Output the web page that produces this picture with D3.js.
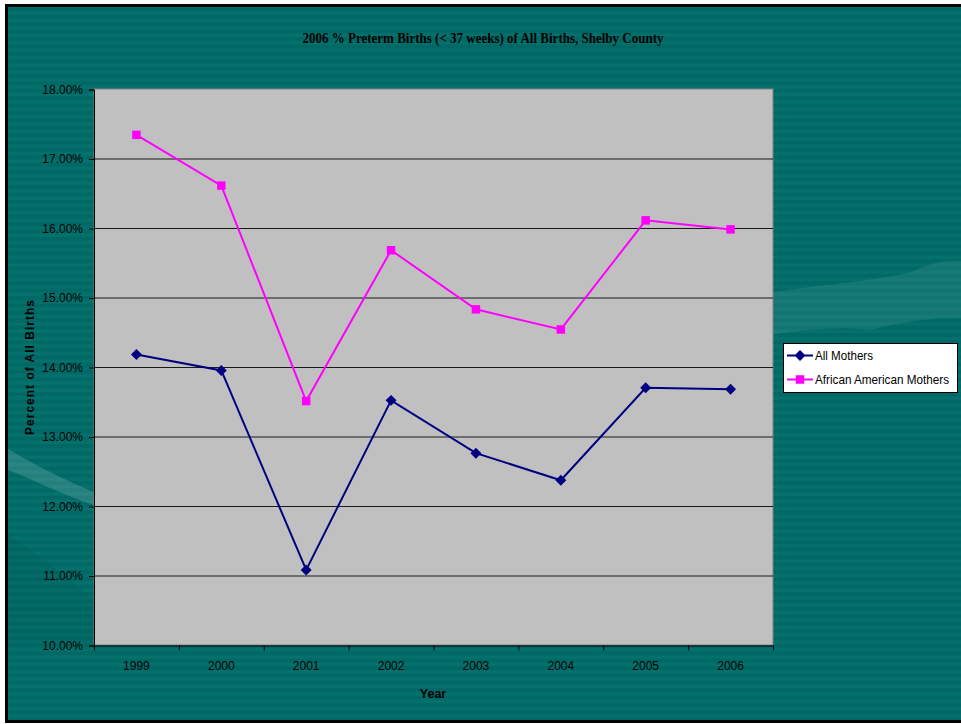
<!DOCTYPE html>
<html>
<head>
<meta charset="utf-8">
<script src="https://cdn.jsdelivr.net/npm/d3@7"></script>
<style>
  html, body { margin: 0; padding: 0; background: #fff; }
  svg { display: block; }
</style>
</head>
<body>
<div class="container"></div>
<script>
const WIDTH = 961;
const HEIGHT = 724;
const PLOT_LEFT = 94;
const PLOT_RIGHT = 773;
const PLOT_TOP = 89;
const PLOT_BOTTOM = 645;

var years = ["1999", "2000", "2001", "2002", "2003", "2004", "2005", "2006"];
var allMothers = [14.18, 13.95, 11.08, 13.52, 12.76, 12.37, 13.70, 13.68];
var africanAmericanMothers = [17.34, 16.61, 13.51, 15.68, 14.83, 14.54, 16.11, 15.98];
var yTicks = [10, 11, 12, 13, 14, 15, 16, 17, 18];
var seriesNames = ["All Mothers", "African American Mothers"];

var translate = function (x, y) {
    return "translate(" + x + "," + y + ")";
};

var _xScale = d3.scaleBand()
    .domain(years)
    .range([PLOT_LEFT, PLOT_RIGHT]);

var _yScale = d3.scaleLinear()
    .domain([10, 18])
    .range([PLOT_BOTTOM, PLOT_TOP]);

// diamond = square turned 45 degrees, square = plain square
var markers = [
    { color: "#000080", size: 60, rotate: 45, labelWidth: 58 },
    { color: "#ff00ff", size: 72, rotate: 0, labelWidth: 134 }
];

function drawBackground(svg) {
    var defs = svg.append("defs");
    var pat = defs.append("pattern")
        .attr("id", "stripes")
        .attr("patternUnits", "userSpaceOnUse")
        .attr("width", 8)
        .attr("height", 7.4);
    pat.append("rect").attr("width", 8).attr("height", 7.4).attr("fill", "#006965");
    pat.append("rect").attr("y", 4).attr("width", 8).attr("height", 3.4).attr("fill", "#04716d");

    svg.append("rect")
        .attr("x", 6.5).attr("y", 5.5)
        .attr("width", WIDTH + 10).attr("height", 716)
        .attr("fill", "url(#stripes)")
        .attr("stroke", "#000")
        .attr("stroke-width", 3);

    // faint decorative swooshes
    svg.append("path")
        .attr("d", "M773,292 C820,285 880,280 912,272 C930,262 950,260 961,261 L961,318 C930,318 900,322 870,330 C840,326 800,330 773,335 Z")
        .attr("fill", "#ffffff").attr("opacity", 0.08);
    svg.append("path")
        .attr("d", "M8,449 C30,462 60,478 94,492 L94,505 C60,494 30,478 8,470 Z")
        .attr("fill", "#ffffff").attr("opacity", 0.15);
    svg.append("path")
        .attr("d", "M8,535 C40,555 70,580 94,600 L94,645 L8,645 Z")
        .attr("fill", "#000000").attr("opacity", 0.04);
}

function drawPlot(svg) {
    svg.append("rect")
        .attr("x", PLOT_LEFT).attr("y", PLOT_TOP)
        .attr("width", PLOT_RIGHT - PLOT_LEFT)
        .attr("height", PLOT_BOTTOM - PLOT_TOP)
        .attr("fill", "#c0c0c0")
        .attr("stroke", "#808080")
        .attr("stroke-width", 1);

    svg.append("g").selectAll("line")
        .data(yTicks.slice(1, -1))
        .enter().append("line")
        .attr("x1", PLOT_LEFT).attr("x2", PLOT_RIGHT)
        .attr("y1", function (d) { return _yScale(d) + 0.5; })
        .attr("y2", function (d) { return _yScale(d) + 0.5; })
        .attr("stroke", "#1a1a1a")
        .attr("stroke-width", 1);

    var yAxis = d3.axisLeft(_yScale)
        .tickValues(yTicks)
        .tickSize(5)
        .tickPadding(6)
        .tickFormat(function (d) { return d.toFixed(2) + "%"; });

    var gy = svg.append("g")
        .attr("transform", translate(PLOT_LEFT, 0.5))
        .call(yAxis);
    gy.select(".domain").attr("stroke", "#000");
    gy.selectAll("text").attr("font-family", "Liberation Sans, Arial, sans-serif")
        .attr("font-size", 12).attr("fill", "#000");

    var xAxis = d3.axisBottom(_xScale).tickSize(0).tickPadding(16);
    var gx = svg.append("g")
        .attr("transform", translate(0, PLOT_BOTTOM + 0.5))
        .call(xAxis);
    gx.select(".domain").attr("stroke", "#000");
    gx.selectAll("text").attr("font-family", "Liberation Sans, Arial, sans-serif")
        .attr("font-size", 12).attr("fill", "#000");

    // tick marks between categories
    var bounds = years.map(function (d) { return _xScale(d); }).concat([PLOT_RIGHT]);
    gx.selectAll(".sep")
        .data(bounds)
        .enter().append("line")
        .attr("class", "sep")
        .attr("x1", function (d) { return d + 0.5; })
        .attr("x2", function (d) { return d + 0.5; })
        .attr("y1", 0).attr("y2", 5)
        .attr("stroke", "#000");
}

function markerPath(m) {
    return d3.symbol().type(d3.symbolSquare).size(m.size)();
}

function drawSeries(svg, values, m) {
    var cx = function (d, i) { return _xScale(years[i]) + _xScale.bandwidth() / 2; };
    var line = d3.line()
        .x(cx)
        .y(function (d) { return _yScale(d); });

    svg.append("path")
        .datum(values)
        .attr("d", line)
        .attr("fill", "none")
        .attr("stroke", m.color)
        .attr("stroke-width", 2);

    svg.append("g").selectAll("path")
        .data(values)
        .enter().append("path")
        .attr("transform", function (d, i) {
            return translate(cx(d, i), _yScale(d)) + " rotate(" + m.rotate + ")";
        })
        .attr("d", markerPath(m))
        .attr("fill", m.color);
}

function drawLegend(svg) {
    var lg = svg.append("g").attr("transform", translate(783, 343));
    lg.append("rect")
        .attr("x", 0.5).attr("y", 0.5)
        .attr("width", 174).attr("height", 49)
        .attr("fill", "#fff")
        .attr("stroke", "#000");

    seriesNames.forEach(function (name, i) {
        var y = 12.5 + i * 24;
        var m = markers[i];
        lg.append("line")
            .attr("x1", 4).attr("x2", 30)
            .attr("y1", y).attr("y2", y)
            .attr("stroke", m.color).attr("stroke-width", 2);
        lg.append("path")
            .attr("transform", translate(17, y) + " rotate(" + m.rotate + ")")
            .attr("d", markerPath(m))
            .attr("fill", m.color);
        lg.append("text")
            .attr("x", 32).attr("y", y + 4.5)
            .attr("font-family", "Liberation Sans, Arial, sans-serif")
            .attr("font-size", 12.5)
            .attr("textLength", m.labelWidth)
            .attr("lengthAdjust", "spacingAndGlyphs")
            .attr("fill", "#000")
            .text(name);
    });
}

var loadChart = function () {
    var svg = d3.select(".container").append("svg")
        .attr("width", WIDTH)
        .attr("height", HEIGHT);

    drawBackground(svg);
    drawPlot(svg);

    drawSeries(svg, allMothers, markers[0]);
    drawSeries(svg, africanAmericanMothers, markers[1]);

    svg.append("text")
        .attr("x", 483).attr("y", 43)
        .attr("text-anchor", "middle")
        .attr("font-family", "Liberation Serif, Times New Roman, serif")
        .attr("font-weight", "bold")
        .attr("font-size", 14.5)
        .attr("textLength", 361)
        .attr("lengthAdjust", "spacingAndGlyphs")
        .text("2006 % Preterm Births (< 37 weeks) of All Births, Shelby County");

    svg.append("text")
        .attr("x", 433).attr("y", 698)
        .attr("text-anchor", "middle")
        .attr("font-family", "Liberation Sans, Arial, sans-serif")
        .attr("font-weight", "bold")
        .attr("font-size", 12.5)
        .text("Year");

    svg.append("text")
        .attr("transform", translate(34, 367) + " rotate(-90)")
        .attr("text-anchor", "middle")
        .attr("font-family", "Liberation Sans, Arial, sans-serif")
        .attr("font-weight", "bold")
        .attr("font-size", 12)
        .attr("letter-spacing", 1)
        .text("Percent of All Births");

    drawLegend(svg);
};

window.onload = loadChart;
</script>
</body>
</html>
